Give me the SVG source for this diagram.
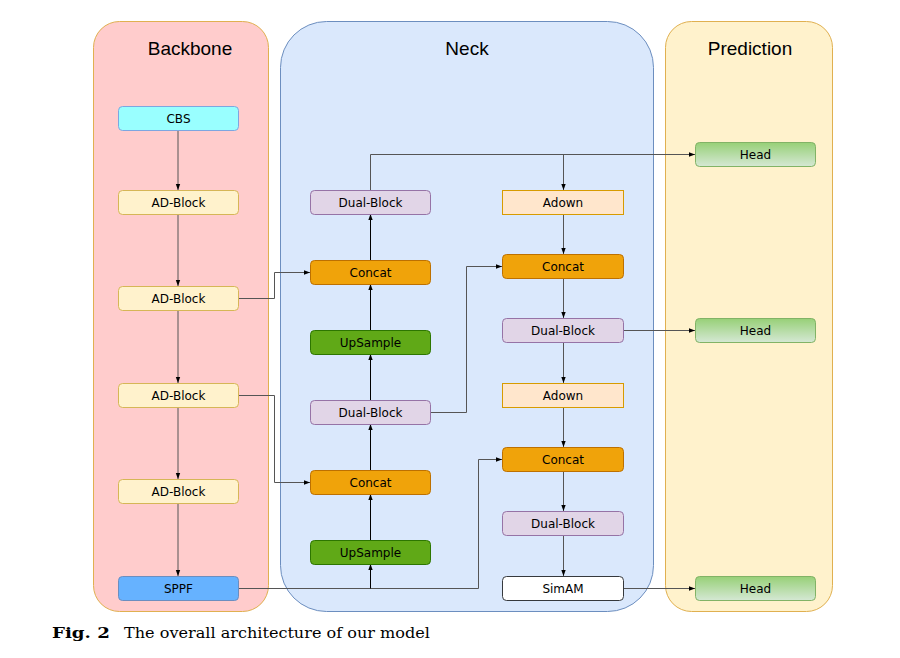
<svg xmlns="http://www.w3.org/2000/svg" width="900" height="658" viewBox="0 0 900 658">
<defs>
<linearGradient id="gh" x1="0" y1="0" x2="0" y2="1">
<stop offset="0" stop-color="#97d077"/>
<stop offset="1" stop-color="#d5e8d4"/>
</linearGradient>
<marker id="ar" viewBox="0 0 6 6" refX="6" refY="3" markerWidth="6" markerHeight="6" orient="auto" markerUnits="userSpaceOnUse">
<path d="M0,0.8 L6,3 L0,5.2 Z" fill="#000"/>
</marker>
</defs>
<style>
.t{font-family:"DejaVu Sans",Verdana,sans-serif;font-size:12px;fill:#000;text-anchor:middle;dominant-baseline:central}
.h{font-family:"Liberation Sans",Arial,sans-serif;font-size:19px;fill:#000;text-anchor:middle}
.c{fill:none;stroke:#555;stroke-width:1}
.k{fill:none;stroke:#000;stroke-width:1}
.bb{fill:#fff2cc;stroke:#d6b656}
.db{fill:#e1d5e7;stroke:#9673a6}
.cc{fill:#f0a30a;stroke:#bd7000}
.up{fill:#60a917;stroke:#2d7600}
.ad{fill:#ffe6cc;stroke:#d79b00}
.hd{fill:url(#gh);stroke:#82b366}
</style>
<rect width="900" height="658" fill="#fff"/>
<g id="panel-backbone">
<rect x="93.5" y="21.5" width="175" height="590" rx="26" fill="#ffcccc" stroke="#e0b050"/>
<text class="h" x="190" y="55">Backbone</text>
</g>
<g id="panel-neck">
<rect x="280.5" y="21.5" width="373" height="590" rx="46" fill="#dae8fc" stroke="#6c8ebf"/>
<text class="h" x="467" y="55">Neck</text>
</g>
<g id="panel-prediction">
<rect x="665.5" y="21.5" width="167" height="590" rx="26" fill="#fff2cc" stroke="#e0b050"/>
<text class="h" x="750" y="55">Prediction</text>
</g>
<g id="connectors">
<path class="c" d="M178,130 V190" marker-end="url(#ar)"/>
<path class="c" d="M178,214 V286" marker-end="url(#ar)"/>
<path class="c" d="M178,310 V383" marker-end="url(#ar)"/>
<path class="c" d="M178,407 V479" marker-end="url(#ar)"/>
<path class="c" d="M178,503 V576" marker-end="url(#ar)"/>
<path class="c" d="M238,298.5 H274.5 V272.5 H310" marker-end="url(#ar)"/>
<path class="c" d="M238,395.5 H274.5 V482.5 H310" marker-end="url(#ar)"/>
<path class="c" d="M238,588.5 H478.5 V459.5 H502" marker-end="url(#ar)"/>
<path class="k" d="M370.5,588.5 V564" marker-end="url(#ar)"/>
<path class="k" d="M370.5,540 V494" marker-end="url(#ar)"/>
<path class="k" d="M370.5,470 V424" marker-end="url(#ar)"/>
<path class="k" d="M370.5,400 V354" marker-end="url(#ar)"/>
<path class="k" d="M370.5,330 V284" marker-end="url(#ar)"/>
<path class="k" d="M370.5,260 V214" marker-end="url(#ar)"/>
<path class="c" d="M430,412.5 H466.5 V266.5 H502" marker-end="url(#ar)"/>
<path class="c" d="M370.5,190 V154.5 H695" marker-end="url(#ar)"/>
<path class="c" d="M563.5,154.5 V190" marker-end="url(#ar)"/>
<path class="c" d="M563.5,214 V254" marker-end="url(#ar)"/>
<path class="c" d="M563.5,278 V318" marker-end="url(#ar)"/>
<path class="c" d="M623,330.5 H695" marker-end="url(#ar)"/>
<path class="c" d="M563.5,342 V383" marker-end="url(#ar)"/>
<path class="c" d="M563.5,407 V447" marker-end="url(#ar)"/>
<path class="c" d="M563.5,471 V511" marker-end="url(#ar)"/>
<path class="c" d="M563.5,535 V576" marker-end="url(#ar)"/>
<path class="c" d="M623,588.5 H695" marker-end="url(#ar)"/>
</g>
<g id="cbs"><rect x="118.5" y="106.5" width="120" height="24" rx="4" fill="#99ffff" stroke="#7ea6e0"/><text class="t" x="178.5" y="118.5">CBS</text></g>
<g id="adblock1"><rect class="bb" x="118.5" y="190.5" width="120" height="24" rx="4"/><text class="t" x="178.5" y="202.5">AD-Block</text></g>
<g id="adblock2"><rect class="bb" x="118.5" y="286.5" width="120" height="24" rx="4"/><text class="t" x="178.5" y="298.5">AD-Block</text></g>
<g id="adblock3"><rect class="bb" x="118.5" y="383.5" width="120" height="24" rx="4"/><text class="t" x="178.5" y="395.5">AD-Block</text></g>
<g id="adblock4"><rect class="bb" x="118.5" y="479.5" width="120" height="24" rx="4"/><text class="t" x="178.5" y="491.5">AD-Block</text></g>
<g id="sppf"><rect x="118.5" y="576.5" width="120" height="24" rx="4" fill="#66b2ff" stroke="#6c8ebf"/><text class="t" x="178.5" y="588.5">SPPF</text></g>
<g id="dualblock1"><rect class="db" x="310.5" y="190.5" width="120" height="24" rx="4"/><text class="t" x="370.5" y="202.5">Dual-Block</text></g>
<g id="concat1"><rect class="cc" x="310.5" y="260.5" width="120" height="24" rx="4"/><text class="t" x="370.5" y="272.5">Concat</text></g>
<g id="upsample1"><rect class="up" x="310.5" y="330.5" width="120" height="24" rx="4"/><text class="t" x="370.5" y="342.5">UpSample</text></g>
<g id="dualblock2"><rect class="db" x="310.5" y="400.5" width="120" height="24" rx="4"/><text class="t" x="370.5" y="412.5">Dual-Block</text></g>
<g id="concat2"><rect class="cc" x="310.5" y="470.5" width="120" height="24" rx="4"/><text class="t" x="370.5" y="482.5">Concat</text></g>
<g id="upsample2"><rect class="up" x="310.5" y="540.5" width="120" height="24" rx="4"/><text class="t" x="370.5" y="552.5">UpSample</text></g>
<g id="adown1"><rect class="ad" x="502.5" y="190.5" width="121" height="24"/><text class="t" x="563" y="202.5">Adown</text></g>
<g id="concat3"><rect class="cc" x="502.5" y="254.5" width="121" height="24" rx="4"/><text class="t" x="563" y="266.5">Concat</text></g>
<g id="dualblock3"><rect class="db" x="502.5" y="318.5" width="121" height="24" rx="4"/><text class="t" x="563" y="330.5">Dual-Block</text></g>
<g id="adown2"><rect class="ad" x="502.5" y="383.5" width="121" height="24"/><text class="t" x="563" y="395.5">Adown</text></g>
<g id="concat4"><rect class="cc" x="502.5" y="447.5" width="121" height="24" rx="4"/><text class="t" x="563" y="459.5">Concat</text></g>
<g id="dualblock4"><rect class="db" x="502.5" y="511.5" width="121" height="24" rx="4"/><text class="t" x="563" y="523.5">Dual-Block</text></g>
<g id="simam"><rect x="502.5" y="576.5" width="121" height="24" rx="4" fill="#fff" stroke="#36393d"/><text class="t" x="563" y="588.5">SimAM</text></g>
<g id="head1"><rect class="hd" x="695.5" y="142.5" width="120" height="24" rx="4"/><text class="t" x="755.5" y="154.5">Head</text></g>
<g id="head2"><rect class="hd" x="695.5" y="318.5" width="120" height="24" rx="4"/><text class="t" x="755.5" y="330.5">Head</text></g>
<g id="head3"><rect class="hd" x="695.5" y="576.5" width="120" height="24" rx="4"/><text class="t" x="755.5" y="588.5">Head</text></g>
<g id="caption" font-family="'DejaVu Serif','Liberation Serif',serif" font-size="14" fill="#000">
<text x="52" y="638" font-weight="bold" textLength="58" lengthAdjust="spacingAndGlyphs">Fig. 2</text>
<text x="124" y="638" textLength="306" lengthAdjust="spacingAndGlyphs">The overall architecture of our model</text>
</g>
</svg>
